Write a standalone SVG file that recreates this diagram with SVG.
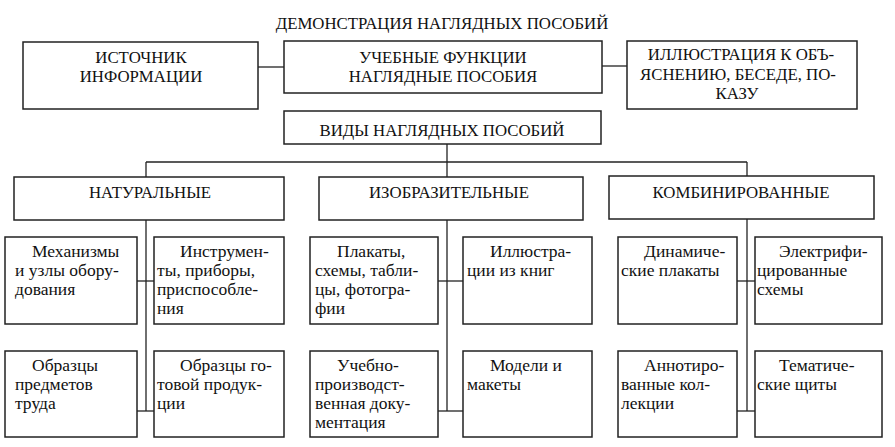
<svg xmlns="http://www.w3.org/2000/svg" width="895" height="447" viewBox="0 0 895 447">
<rect x="0" y="0" width="895" height="447" fill="#ffffff"/>
<g id="connectors" fill="none" stroke="#222" stroke-width="1.3">
<line x1="258" y1="67" x2="284" y2="67"/>
<line x1="602" y1="66" x2="627" y2="66"/>
<line x1="447" y1="144" x2="447" y2="162"/>
<line x1="146" y1="162" x2="747" y2="162"/>
<line x1="146" y1="162" x2="146" y2="177"/>
<line x1="447" y1="162" x2="447" y2="177"/>
<line x1="747" y1="162" x2="747" y2="176"/>
<line x1="146" y1="220" x2="146" y2="411"/>
<line x1="137" y1="281" x2="154" y2="281"/>
<line x1="137" y1="411" x2="154" y2="411"/>
<line x1="447" y1="220" x2="447" y2="411"/>
<line x1="438" y1="281" x2="463" y2="281"/>
<line x1="438" y1="411" x2="463" y2="411"/>
<line x1="747" y1="219" x2="747" y2="411"/>
<line x1="737" y1="281" x2="755" y2="281"/>
<line x1="737" y1="411" x2="755" y2="411"/>
</g>
<g id="headers" fill="#ffffff" stroke="#222" stroke-width="1.5">
<g id="title">
<text x="442" y="29" font-family="Liberation Serif" font-size="16.8" text-anchor="middle" fill="#111" stroke="none">ДЕМОНСТРАЦИЯ НАГЛЯДНЫХ ПОСОБИЙ</text>
</g>
<g id="istochnik">
<rect x="23" y="42" width="235" height="67"/>
<text x="141" y="63" font-family="Liberation Serif" font-size="16.8" text-anchor="middle" fill="#111" stroke="none">ИСТОЧНИК</text>
<text x="141" y="82" font-family="Liberation Serif" font-size="16.8" text-anchor="middle" fill="#111" stroke="none">ИНФОРМАЦИИ</text>
</g>
<g id="funkcii">
<rect x="284" y="41" width="318" height="52"/>
<text x="443" y="63" font-family="Liberation Serif" font-size="16.8" text-anchor="middle" fill="#111" stroke="none">УЧЕБНЫЕ ФУНКЦИИ</text>
<text x="443" y="82" font-family="Liberation Serif" font-size="16.8" text-anchor="middle" fill="#111" stroke="none">НАГЛЯДНЫЕ ПОСОБИЯ</text>
</g>
<g id="illyustraciya">
<rect x="627" y="41" width="230" height="68"/>
<text x="741" y="60" font-family="Liberation Serif" font-size="16.8" text-anchor="middle" fill="#111" stroke="none">ИЛЛЮСТРАЦИЯ К ОБЪ-</text>
<text x="738" y="80" font-family="Liberation Serif" font-size="16.8" text-anchor="middle" fill="#111" stroke="none">ЯСНЕНИЮ, БЕСЕДЕ, ПО-</text>
<text x="737" y="99" font-family="Liberation Serif" font-size="16.8" text-anchor="middle" fill="#111" stroke="none">КАЗУ</text>
</g>
<g id="vidy">
<rect x="284" y="111" width="317" height="33"/>
<text x="442" y="136" font-family="Liberation Serif" font-size="16.8" text-anchor="middle" fill="#111" stroke="none">ВИДЫ НАГЛЯДНЫХ ПОСОБИЙ</text>
</g>
<g id="naturalnye">
<rect x="14" y="177" width="270" height="43"/>
<text x="150" y="198" font-family="Liberation Serif" font-size="16.8" text-anchor="middle" fill="#111" stroke="none">НАТУРАЛЬНЫЕ</text>
</g>
<g id="izobrazitelnye">
<rect x="319" y="177" width="264" height="43"/>
<text x="449" y="198" font-family="Liberation Serif" font-size="16.8" text-anchor="middle" fill="#111" stroke="none">ИЗОБРАЗИТЕЛЬНЫЕ</text>
</g>
<g id="kombinirovannye">
<rect x="609" y="176" width="265" height="43"/>
<text x="741" y="198" font-family="Liberation Serif" font-size="16.8" text-anchor="middle" fill="#111" stroke="none">КОМБИНИРОВАННЫЕ</text>
</g>
</g>
<g id="items" fill="#ffffff" stroke="#222" stroke-width="1.5">
<g id="mehanizmy">
<rect x="5" y="237" width="132" height="87"/>
<text x="32" y="257" font-family="Liberation Serif" font-size="17.5" fill="#111" stroke="none">Механизмы</text>
<text x="15" y="276" font-family="Liberation Serif" font-size="17.5" fill="#111" stroke="none">и узлы обору-</text>
<text x="15" y="295" font-family="Liberation Serif" font-size="17.5" fill="#111" stroke="none">дования</text>
</g>
<g id="instrumenty">
<rect x="154" y="237" width="130" height="87"/>
<text x="180" y="257" font-family="Liberation Serif" font-size="17.5" fill="#111" stroke="none">Инструмен-</text>
<text x="157" y="276" font-family="Liberation Serif" font-size="17.5" fill="#111" stroke="none">ты, приборы,</text>
<text x="157" y="295" font-family="Liberation Serif" font-size="17.5" fill="#111" stroke="none">приспособле-</text>
<text x="157" y="314" font-family="Liberation Serif" font-size="17.5" fill="#111" stroke="none">ния</text>
</g>
<g id="obrazcy-predmetov">
<rect x="5" y="351" width="132" height="86"/>
<text x="32" y="371" font-family="Liberation Serif" font-size="17.5" fill="#111" stroke="none">Образцы</text>
<text x="15" y="390" font-family="Liberation Serif" font-size="17.5" fill="#111" stroke="none">предметов</text>
<text x="15" y="409" font-family="Liberation Serif" font-size="17.5" fill="#111" stroke="none">труда</text>
</g>
<g id="obrazcy-produkcii">
<rect x="154" y="351" width="130" height="86"/>
<text x="180" y="371" font-family="Liberation Serif" font-size="17.5" fill="#111" stroke="none">Образцы го-</text>
<text x="157" y="390" font-family="Liberation Serif" font-size="17.5" fill="#111" stroke="none">товой продук-</text>
<text x="157" y="409" font-family="Liberation Serif" font-size="17.5" fill="#111" stroke="none">ции</text>
</g>
<g id="plakaty">
<rect x="310" y="237" width="128" height="87"/>
<text x="337" y="257" font-family="Liberation Serif" font-size="17.5" fill="#111" stroke="none">Плакаты,</text>
<text x="315" y="276" font-family="Liberation Serif" font-size="17.5" fill="#111" stroke="none">схемы, табли-</text>
<text x="315" y="295" font-family="Liberation Serif" font-size="17.5" fill="#111" stroke="none">цы, фотогра-</text>
<text x="315" y="314" font-family="Liberation Serif" font-size="17.5" fill="#111" stroke="none">фии</text>
</g>
<g id="illyustracii-knig">
<rect x="463" y="237" width="129" height="87"/>
<text x="490" y="257" font-family="Liberation Serif" font-size="17.5" fill="#111" stroke="none">Иллюстра-</text>
<text x="467" y="276" font-family="Liberation Serif" font-size="17.5" fill="#111" stroke="none">ции из книг</text>
</g>
<g id="uchebno">
<rect x="310" y="351" width="128" height="86"/>
<text x="337" y="371" font-family="Liberation Serif" font-size="17.5" fill="#111" stroke="none">Учебно-</text>
<text x="315" y="390" font-family="Liberation Serif" font-size="17.5" fill="#111" stroke="none">производст-</text>
<text x="315" y="409" font-family="Liberation Serif" font-size="17.5" fill="#111" stroke="none">венная доку-</text>
<text x="315" y="428" font-family="Liberation Serif" font-size="17.5" fill="#111" stroke="none">ментация</text>
</g>
<g id="modeli">
<rect x="463" y="351" width="129" height="86"/>
<text x="490" y="371" font-family="Liberation Serif" font-size="17.5" fill="#111" stroke="none">Модели и</text>
<text x="467" y="390" font-family="Liberation Serif" font-size="17.5" fill="#111" stroke="none">макеты</text>
</g>
<g id="dinamicheskie">
<rect x="618" y="237" width="119" height="87"/>
<text x="644" y="257" font-family="Liberation Serif" font-size="17.5" fill="#111" stroke="none">Динамиче-</text>
<text x="621" y="276" font-family="Liberation Serif" font-size="17.5" fill="#111" stroke="none">ские плакаты</text>
</g>
<g id="elektrificirovannye">
<rect x="755" y="237" width="127" height="87"/>
<text x="779" y="257" font-family="Liberation Serif" font-size="17.5" fill="#111" stroke="none">Электрифи-</text>
<text x="757" y="276" font-family="Liberation Serif" font-size="17.5" fill="#111" stroke="none">цированные</text>
<text x="757" y="295" font-family="Liberation Serif" font-size="17.5" fill="#111" stroke="none">схемы</text>
</g>
<g id="annotirovannye">
<rect x="618" y="351" width="119" height="86"/>
<text x="644" y="371" font-family="Liberation Serif" font-size="17.5" fill="#111" stroke="none">Аннотиро-</text>
<text x="621" y="390" font-family="Liberation Serif" font-size="17.5" fill="#111" stroke="none">ванные кол-</text>
<text x="621" y="409" font-family="Liberation Serif" font-size="17.5" fill="#111" stroke="none">лекции</text>
</g>
<g id="tematicheskie">
<rect x="755" y="351" width="127" height="86"/>
<text x="779" y="371" font-family="Liberation Serif" font-size="17.5" fill="#111" stroke="none">Тематиче-</text>
<text x="757" y="390" font-family="Liberation Serif" font-size="17.5" fill="#111" stroke="none">ские щиты</text>
</g>
</g>
</svg>
